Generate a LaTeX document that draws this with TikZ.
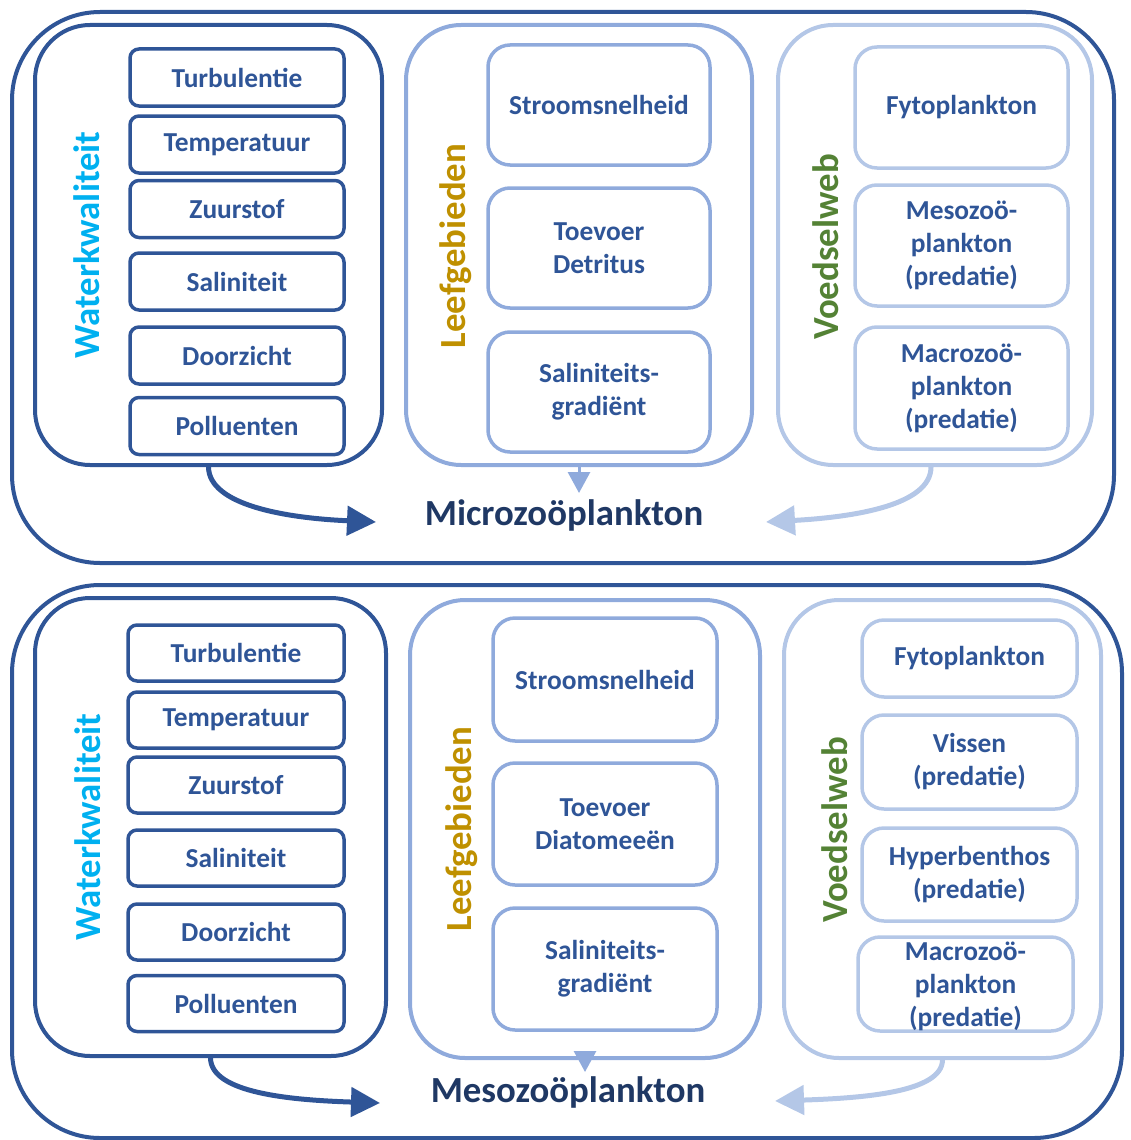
\documentclass[tikz,border=0pt]{standalone}
\usepackage{fontspec}
\setmainfont{Carlito}
\usetikzlibrary{arrows.meta}
\definecolor{dkblue}{HTML}{2F5597}
\definecolor{mdblue}{HTML}{8FAADC}
\definecolor{ltblue}{HTML}{B4C7E7}
\definecolor{navy}{HTML}{1F3864}
\definecolor{cyanlbl}{HTML}{00B0F0}
\definecolor{goldlbl}{HTML}{BF9000}
\definecolor{greenlbl}{HTML}{548235}
\newcommand{\itemfont}{\bfseries\fontsize{27.4}{33}\selectfont}
\newcommand{\bigfont}{\bfseries\fontsize{36.8}{42}\selectfont}
\tikzset{
  outerbox/.style={draw=dkblue, line width=4pt, rounded corners=88pt, inner sep=0pt},
  wqpanel/.style={draw=dkblue, line width=4pt, rounded corners=55pt, inner sep=0pt},
  lgpanel/.style={draw=mdblue, line width=4pt, rounded corners=55pt, inner sep=0pt},
  vwpanel/.style={draw=ltblue, line width=4pt, rounded corners=55pt, inner sep=0pt},
  itembase/.style={line width=3.5pt, align=center, inner sep=0pt, font=\itemfont, text=dkblue},
  wqitem/.style={itembase, draw=dkblue, rounded corners=9pt},
  lgitem/.style={itembase, draw=mdblue, rounded corners=22pt},
  vwitem/.style={itembase, draw=ltblue, rounded corners=22pt},
  sidelabel/.style={rotate=90, font=\bigfont, inner sep=0pt},
  target/.style={font=\bigfont, text=navy, inner sep=0pt},
  bigarrow/.style={line width=5pt, -{Triangle[length=29pt, width=29pt]}},
  smallarrow/.style={line width=3pt, draw=mdblue, -{Triangle[length=21pt, width=22pt]}},
}
\begin{document}
\begin{tikzpicture}[x=1pt, y=-1pt]
\useasboundingbox (0,0) rectangle (1131,1140);

% ---------- upper block: Microzooplankton ----------
\node[outerbox, minimum width=1102pt, minimum height=551pt] (out1) at (563,287.5) {};

\node[wqpanel, minimum width=347pt, minimum height=440pt] (wq1) at (208.5,245) {};
\node[sidelabel, text=cyanlbl] (wql1) at (87,245) {Waterkwaliteit};
\foreach \name/\txt/\cy in {t1/Turbulentie/77.5, te1/Temperatuur/144.5, z1/Zuurstof/209,
                            s1/Saliniteit/281.5, d1/Doorzicht/355.5, p1/Polluenten/426}
  \node[wqitem, minimum width=214pt, minimum height=57pt] (\name) at (237,\cy) {\txt};

\node[lgpanel, minimum width=346pt, minimum height=440pt] (lg1) at (579,245) {};
\node[sidelabel, text=goldlbl] (lgl1) at (456,246) {Leefgebieden};
\node[lgitem, minimum width=222pt, minimum height=120pt] (sn1) at (599,105) {Stroomsnelheid};
\node[lgitem, minimum width=222pt, minimum height=120pt] (td1) at (599,248) {Toevoer\\Detritus};
\node[lgitem, minimum width=222pt, minimum height=120pt] (sg1) at (599,392) {Saliniteits-\\gradiënt};

\node[vwpanel, minimum width=314pt, minimum height=440pt] (vw1) at (935,245) {};
\node[sidelabel, text=greenlbl] (vwl1) at (826,247) {Voedselweb};
\node[vwitem, minimum width=213pt, minimum height=121pt] (fy1) at (961.5,107.5) {Fytoplankton};
\node[vwitem, minimum width=213pt, minimum height=121pt] (me1) at (961.5,245.5) {Mesozoö-\\plankton\\(predatie)};
\node[vwitem, minimum width=213pt, minimum height=122pt] (ma1) at (961.5,388) {Macrozoö-\\plankton\\(predatie)};

\node[target] (micro) at (564,515) {Microzoöplankton};
\coordinate (tipL1) at (376,522);
\coordinate (tipR1) at (766,522);
\coordinate (tipM1) at (579,493);
\draw[bigarrow, dkblue] (wq1.south) .. controls (209,505) and (285,518) .. (tipL1);
\draw[smallarrow] (lg1.south) -- (tipM1);
\draw[bigarrow, ltblue] ([xshift=-4pt]vw1.south) .. controls (931,505) and (855,517) .. (tipR1);

% ---------- lower block: Mesozooplankton ----------
\node[outerbox, minimum width=1110pt, minimum height=553pt] (out2) at (567,861.5) {};

\node[wqpanel, minimum width=351pt, minimum height=458pt] (wq2) at (210.5,827) {};
\node[sidelabel, text=cyanlbl] (wql2) at (88,827) {Waterkwaliteit};
\foreach \name/\txt/\cy in {t2/Turbulentie/653, te2/Temperatuur/720, z2/Zuurstof/785,
                            s2/Saliniteit/858, d2/Doorzicht/932, p2/Polluenten/1003.5}
  \node[wqitem, minimum width=216pt, minimum height=56pt] (\name) at (236,\cy) {\txt};

\node[lgpanel, minimum width=350pt, minimum height=458pt] (lg2) at (585,829) {};
\node[sidelabel, text=goldlbl] (lgl2) at (462,829) {Leefgebieden};
\node[lgitem, minimum width=224pt, minimum height=123pt] (sn2) at (605,679.5) {Stroomsnelheid};
\node[lgitem, minimum width=224pt, minimum height=122pt] (td2) at (605,824) {Toevoer\\Diatomeeën};
\node[lgitem, minimum width=224pt, minimum height=122pt] (sg2) at (605,969) {Saliniteits-\\gradiënt};

\node[vwpanel, minimum width=317pt, minimum height=458pt] (vw2) at (942.5,829) {};
\node[sidelabel, text=greenlbl] (vwl2) at (835,830) {Voedselweb};
\node[vwitem, minimum width=215pt, minimum height=77pt] (fy2) at (969.5,658.5) {Fytoplankton};
\node[vwitem, minimum width=215pt, minimum height=94pt] (vi2) at (969.5,762) {Vissen\\(predatie)};
\node[vwitem, minimum width=215pt, minimum height=93pt] (hy2) at (969.5,874.5) {Hyperbenthos\\(predatie)};
\node[vwitem, minimum width=215pt, minimum height=94pt] (ma2) at (965.5,984) {};
\node[font=\itemfont, text=dkblue, align=center, inner sep=0pt] (ma2t) at (965.5,986) {Macrozoö-\\plankton\\(predatie)};

\node[target] (meso) at (568,1092) {Mesozoöplankton};
\coordinate (tipL2) at (380,1103);
\coordinate (tipR2) at (775,1101);
\coordinate (tipM2) at (585,1072);
\draw[bigarrow, dkblue] (wq2.south) .. controls (211,1093) and (290,1100) .. (tipL2);
\draw[smallarrow] (lg2.south) -- (tipM2);
\draw[bigarrow, ltblue] (vw2.south) .. controls (942,1092) and (865,1098) .. (tipR2);
\end{tikzpicture}
\end{document}
